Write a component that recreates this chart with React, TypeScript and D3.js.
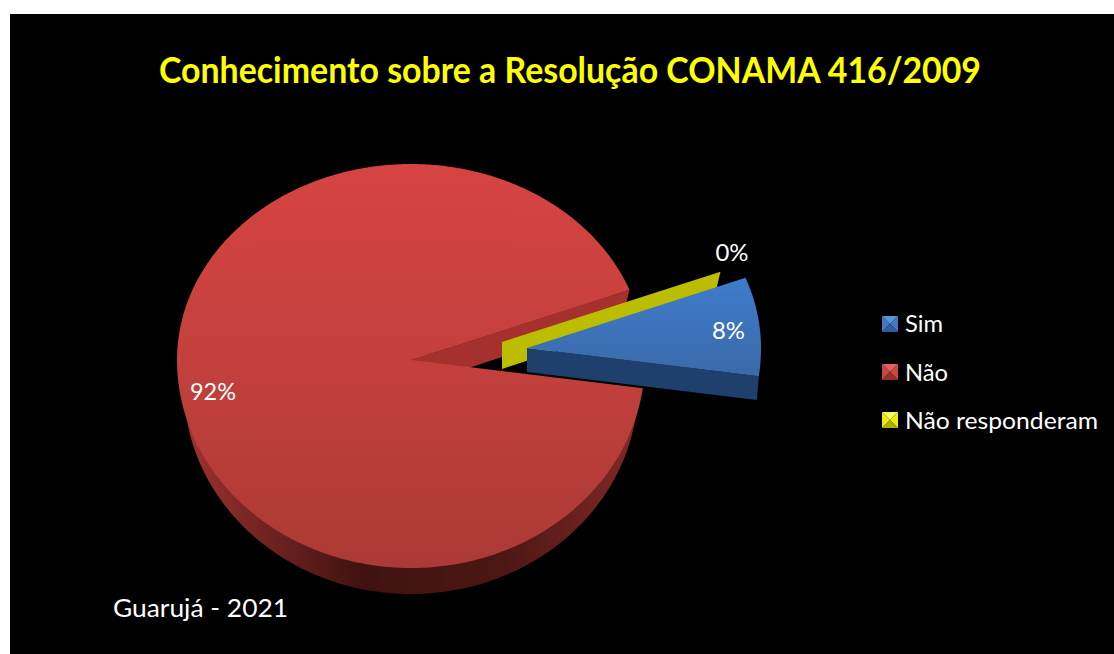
import * as d3 from 'd3';
import React from 'react';

const categories = ['Sim', 'Não', 'Não responderam'];
const values = [8, 92, 0];
const valueLabels = ['8%', '92%', '0%'];
const titleText = 'Conhecimento sobre a Resolução CONAMA 416/2009';
const noteText = 'Guarujá - 2021';

const width = 1114;
const height = 654;
const fontFamily = 'Lato, Carlito, Calibri, sans-serif';

// pie geometry, tilted: the near half of the ellipse is a bit taller (perspective)
const center = { x: 411, y: 360 };
const rx = 234;
const ryFar = 196;
const ryNear = 208;
const rxBase = 227;
const firstAngle = (69 * Math.PI) / 180;

// how far each slice is pulled out of the pie, and its thickness
const explode = [
  { dx: 116, dy: -12, depth: 24 },
  { dx: 0, dy: 0, depth: 27 },
  { dx: 91, dy: -18, depth: 27 },
];

const labelPos = [
  { x: 728.5, y: 339, len: 33 },
  { x: 213, y: 400, len: 46 },
  { x: 732, y: 261, len: 33 },
];

const legendColors = [
  { top: '#5b93d6', side: '#4279c2', bottom: '#2f5f9c' },
  { top: '#e0605d', side: '#c84643', bottom: '#96302d' },
  { top: '#f8f860', side: '#ecec10', bottom: '#b0b000' },
];
const legendTextLen = [38, 43, 193];

const pieGen = d3
  .pie<number>()
  .sort(null)
  .startAngle(firstAngle)
  .endAngle(firstAngle + Math.PI * 2);

const arcs = pieGen(values);

const rimPoint = (a: number, i: number, base: boolean): [number, number] => {
  const e = explode[i];
  const c = Math.cos(a);
  const ry = c > 0 ? ryFar : ryNear;
  const radiusX = base ? rxBase + (i === 0 ? 5 : 0) : rx;
  return [
    center.x + e.dx + radiusX * Math.sin(a),
    center.y + e.dy + (base ? e.depth : 0) - ry * c * (base ? 0.995 : 1),
  ];
};

const apex = (i: number, base: boolean): [number, number] => [
  center.x + explode[i].dx,
  center.y + explode[i].dy + (base ? explode[i].depth : 0),
];

const line = d3.line();

const sector = (start: number, end: number, i: number, base: boolean) => {
  const n = Math.max(2, Math.ceil(Math.abs(end - start) / 0.01));
  const scale = d3.scaleLinear().domain([0, n]).range([start, end]);
  const pts = d3.range(n + 1).map((k) => rimPoint(scale(k), i, base));
  return line([apex(i, base), ...pts]) + 'Z';
};

// the flat wall of a slice, where it was cut
const cutWall = (a: number, i: number) =>
  line([apex(i, false), rimPoint(a, i, false), rimPoint(a, i, true), apex(i, true)]) + 'Z';

const LegendKey = ({ x, y, c }: { x: number; y: number; c: (typeof legendColors)[0] }) => {
  const s = 16;
  const m = s / 2;
  const tri = (a: number[], b: number[]) => line([a as [number, number], b as [number, number], [m, m]]) + 'Z';
  return (
    <g transform={`translate(${x},${y})`}>
      <path d={tri([0, 0], [s, 0])} fill={c.top} />
      <path d={tri([0, 0], [0, s])} fill={c.side} />
      <path d={tri([s, 0], [s, s])} fill={c.side} />
      <path d={tri([0, s], [s, s])} fill={c.bottom} />
    </g>
  );
};

const App = () => {
  const [blue, red, yellow] = arcs;

  return (
    <svg
      width={width}
      height={height}
      style={{ position: 'fixed', left: 0, top: 0, background: '#fff' }}
      fontFamily={fontFamily}
    >
      <defs>
        <linearGradient id="redTop" gradientUnits="userSpaceOnUse" x1="0" y1="164" x2="0" y2="568">
          <stop offset="0" stopColor="#d64442" />
          <stop offset="0.45" stopColor="#c5403d" />
          <stop offset="1" stopColor="#ab3a36" />
        </linearGradient>
        <linearGradient id="redSide" gradientUnits="userSpaceOnUse" x1="176" y1="0" x2="644" y2="0">
          <stop offset="0" stopColor="#a83431" />
          <stop offset="0.15" stopColor="#7a2724" />
          <stop offset="0.4" stopColor="#3f1210" />
          <stop offset="0.7" stopColor="#4c1715" />
          <stop offset="0.95" stopColor="#7c2623" />
          <stop offset="1" stopColor="#8c2c29" />
        </linearGradient>
        <linearGradient id="blueTop" gradientUnits="userSpaceOnUse" x1="0" y1="280" x2="0" y2="385">
          <stop offset="0" stopColor="#3f7bca" />
          <stop offset="1" stopColor="#3a68a6" />
        </linearGradient>
      </defs>

      <rect x={10} y={14} width={width - 10} height={height - 14} fill="#000" />

      <text x={570} y={83} textAnchor="middle" fontSize={36} fontWeight={700} fill="#ffff00" textLength={822} lengthAdjust="spacingAndGlyphs">
        {titleText}
      </text>

      {/* back to front: red base, red cut wall, yellow sliver, blue slice, then the red top */}
      <path d={sector(red.startAngle, red.endAngle, 1, true)} fill="url(#redSide)" />
      <path d={cutWall(red.endAngle, 1)} fill="#a5302d" />
      <path d={cutWall(yellow.startAngle, 2)} fill="#bdbd00" />

      <path d={cutWall(blue.endAngle, 0)} fill="#1f3f6c" />
      <path d={sector(blue.startAngle, blue.endAngle, 0, false)} fill="url(#blueTop)" />

      <path d={sector(red.startAngle, red.endAngle, 1, false)} fill="url(#redTop)" />

      {valueLabels.map((t, i) => (
        <text key={t} x={labelPos[i].x} y={labelPos[i].y} textAnchor="middle" fontSize={24} fill="#fff" textLength={labelPos[i].len} lengthAdjust="spacingAndGlyphs">
          {t}
        </text>
      ))}

      {categories.map((c, i) => (
        <g key={c}>
          <LegendKey x={882} y={316 + i * 48} c={legendColors[i]} />
          <text x={905} y={332 + i * 48.5} fontSize={24} fill="#fff" textLength={legendTextLen[i]} lengthAdjust="spacingAndGlyphs">
            {c}
          </text>
        </g>
      ))}

      <text x={113} y={617} fontSize={25} fill="#fff" textLength={175} lengthAdjust="spacingAndGlyphs">
        {noteText}
      </text>
    </svg>
  );
};

export default App;
